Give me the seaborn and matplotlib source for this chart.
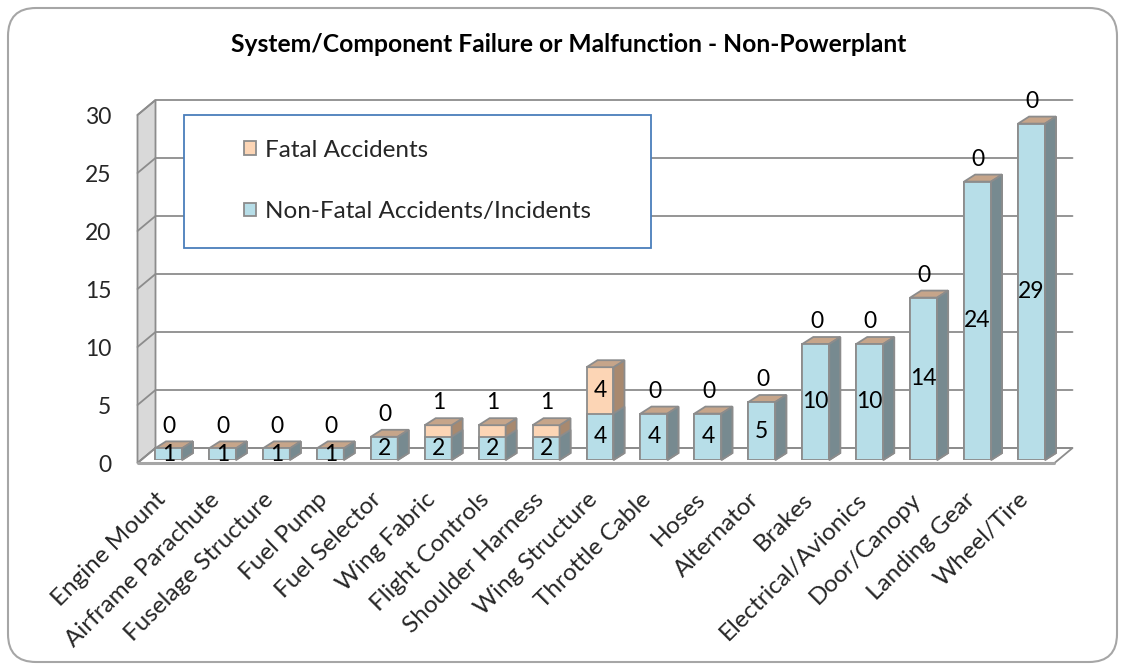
import matplotlib
matplotlib.use("Agg")
import matplotlib.pyplot as plt
import matplotlib.transforms as mtransforms
from matplotlib.patches import Polygon, FancyBboxPatch, Rectangle, Patch
import pandas as pd
import seaborn as sns

# ---- data ----
categories = ["Engine Mount", "Airframe Parachute", "Fuselage Structure", "Fuel Pump",
              "Fuel Selector", "Wing Fabric", "Flight Controls", "Shoulder Harness",
              "Wing Structure", "Throttle Cable", "Hoses", "Alternator", "Brakes",
              "Electrical/Avionics", "Door/Canopy", "Landing Gear", "Wheel/Tire"]
non_fatal = [1, 1, 1, 1, 2, 2, 2, 2, 4, 4, 4, 5, 10, 10, 14, 24, 29]
fatal = [0, 0, 0, 0, 0, 1, 1, 1, 4, 0, 0, 0, 0, 0, 0, 0, 0]
y_ticks = [0, 5, 10, 15, 20, 25, 30]
title = "System/Component Failure or Malfunction - Non-Powerplant"
legend_labels = ["Fatal Accidents", "Non-Fatal Accidents/Incidents"]

# ---- style ----
sns.set_theme(style="white")
plt.rcParams["font.family"] = ["Lato", "DejaVu Sans"]

BLUE_FRONT = "#B7DEE8"
BLUE_SIDE = "#778A90"
PEACH_FRONT = "#FCD5B5"
PEACH_SIDE = "#A8896F"
TAN_TOP = "#C6A58A"
EDGE = "#8C8C8C"
GRID = "#8C8C8C"
WALL = "#D9D9D9"

df = pd.DataFrame({"category": categories,
                   "non_fatal": non_fatal,
                   "fatal": fatal})
df["total"] = df["non_fatal"] + df["fatal"]

W, H = 1125, 670
fig = plt.figure(figsize=(W / 100, H / 100), dpi=100)
fig.patch.set_facecolor("white")

# bar plane in pixel terms (value 0 .. 30)
px_left, px_right, px_bottom, px_top = 141.5, 1058.5, 460, 112
ax = fig.add_axes([px_left / W, (H - px_bottom) / H,
                   (px_right - px_left) / W, (px_bottom - px_top) / H])
ax.set_facecolor("none")

n = len(categories)
ymax = 30
unit_x = (px_right - px_left) / n          # pixels per category
unit_y = (px_bottom - px_top) / ymax       # pixels per value unit

# front plane sits slightly left of / below the bar plane
front_px = (-4.0, -3.0)
ex, ey = front_px[0] / unit_x, front_px[1] / unit_y
# depth offsets (data units)
wall_dx, wall_dy = 18 / unit_x, 15 / unit_y
bar_dx, bar_dy = 11 / unit_x, 7 / unit_y

# ---- walls / floor ----
x0, x1 = -0.5 + ex, n - 0.5 + ex
left_wall = Polygon([(x0, ey), (x0, ymax + ey), (x0 + wall_dx, ymax + ey + wall_dy),
                     (x0 + wall_dx, ey + wall_dy)], closed=True,
                    facecolor=WALL, edgecolor=GRID, lw=1.3, clip_on=False, zorder=1)
ax.add_patch(left_wall)
floor = Polygon([(x0, ey), (x1, ey), (x1 + wall_dx, ey + wall_dy),
                 (x0 + wall_dx, ey + wall_dy)],
                closed=True, facecolor="white", edgecolor=GRID, lw=1.3,
                clip_on=False, zorder=1)
ax.add_patch(floor)
ax.plot([x0, x1], [ey, ey], color="#A6A6A6", lw=2.2, clip_on=False, zorder=1.5)
for v in y_ticks:
    ax.plot([x0, x0 + wall_dx, x1 + wall_dx],
            [v + ey, v + ey + wall_dy, v + ey + wall_dy],
            color=GRID, lw=1.3, clip_on=False, zorder=1.2)

# ---- bars: totals (fatal colour) then non-fatal on top ----
before = len(ax.patches)
sns.barplot(data=df, x="category", y="total", color=PEACH_FRONT, saturation=1,
            width=0.5, edgecolor=EDGE, linewidth=1.3, errorbar=None, ax=ax, zorder=3)
total_bars = ax.patches[before:]
before = len(ax.patches)
sns.barplot(data=df, x="category", y="non_fatal", color=BLUE_FRONT, saturation=1,
            width=0.5, edgecolor=EDGE, linewidth=1.3, errorbar=None, ax=ax, zorder=5)
nf_bars = ax.patches[before:]


def add_faces(bar, side_color, top_color, z):
    bx0 = bar.get_x()
    bx1 = bx0 + bar.get_width()
    by0 = bar.get_y()
    by1 = by0 + bar.get_height()
    side = Polygon([(bx1, by0), (bx1 + bar_dx, by0 + bar_dy),
                    (bx1 + bar_dx, by1 + bar_dy), (bx1, by1)], closed=True,
                   facecolor=side_color, edgecolor=EDGE, lw=1.3, clip_on=False,
                   zorder=z)
    ax.add_patch(side)
    if top_color is not None:
        top = Polygon([(bx0, by1), (bx0 + bar_dx, by1 + bar_dy),
                       (bx1 + bar_dx, by1 + bar_dy), (bx1, by1)], closed=True,
                      facecolor=top_color, edgecolor=EDGE, lw=1.3, clip_on=False,
                      zorder=z)
        ax.add_patch(top)


for b in total_bars:
    add_faces(b, PEACH_SIDE, TAN_TOP, 3)
for b in nf_bars:
    add_faces(b, BLUE_SIDE, None, 5)

# ---- value labels ----
lab_fs = 16.5
for i, (nf, f) in enumerate(zip(non_fatal, fatal)):
    ax.text(i, nf / 2, str(nf), ha="center", va="center", fontsize=lab_fs,
            color="black", zorder=7)
    if f >= 2:
        ax.text(i, nf + f / 2, str(f), ha="center", va="center", fontsize=lab_fs,
                color="black", zorder=7)
    else:
        ax.annotate(str(f), xy=(i, nf + f), xytext=(0.5, 16),
                    textcoords="offset points", ha="center", va="center",
                    fontsize=lab_fs, color="black", zorder=7,
                    annotation_clip=False)

# ---- axes ----
ax.set_xlim(-0.5, n - 0.5)
ax.set_ylim(0, ymax)
ax.set_yticks(y_ticks)
ax.set_yticklabels([str(v) for v in y_ticks], fontsize=16.5)
ax.tick_params(axis="y", length=7, width=1.3, color=GRID, pad=12, direction="out")
ax.tick_params(axis="x", length=0, pad=26)
ax.set_xticks(range(n))
ax.set_xticklabels(categories, rotation=45, ha="right", va="center",
                   rotation_mode="anchor", fontsize=17.5)
ax.set_xlabel("")
ax.set_ylabel("")
for s in ax.spines.values():
    s.set_visible(False)

# y ticks belong to the front plane
front_shift = mtransforms.ScaledTranslation(front_px[0] / 100, front_px[1] / 100,
                                            fig.dpi_scale_trans)
for t in ax.yaxis.get_major_ticks():
    t.tick1line.set_transform(t.tick1line.get_transform() + front_shift)
    t.label1.set_transform(t.label1.get_transform() + front_shift)
x_shift = mtransforms.ScaledTranslation(-6 / 100, 0, fig.dpi_scale_trans)
for lbl in ax.get_xticklabels():
    lbl.set_transform(lbl.get_transform() + x_shift)

# ---- legend ----
fig.patches.append(Rectangle((184 / W, (H - 248) / H), 467 / W, 133 / H,
                             transform=fig.transFigure, facecolor="white",
                             edgecolor="#4A7EBB", lw=1.3, zorder=8))
handles = [Patch(facecolor=PEACH_FRONT, edgecolor=EDGE, lw=1.3),
           Patch(facecolor=BLUE_FRONT, edgecolor=EDGE, lw=1.3)]
leg = fig.legend(handles, legend_labels, loc="upper left",
                 bbox_to_anchor=(244 / W, 1 - 140 / H), frameon=False,
                 fontsize=17.5, handlelength=0.5, handleheight=0.5,
                 handletextpad=0.35, labelspacing=1.65, borderpad=0,
                 borderaxespad=0)
leg.set_zorder(9)

# ---- title and chart border ----
fig.text(569 / W, 1 - 44 / H, title, ha="center", va="center",
         fontsize=17.7, fontweight="bold", color="black")
border = FancyBboxPatch((8 / 100, 8 / 100), (W - 16) / 100, (H - 16) / 100,
                        boxstyle="round,pad=0,rounding_size=0.28",
                        transform=fig.dpi_scale_trans, facecolor="none",
                        edgecolor="#A6A6A6", lw=1.5)
fig.patches.append(border)

fig.savefig("out.png", dpi=100, facecolor="white")
